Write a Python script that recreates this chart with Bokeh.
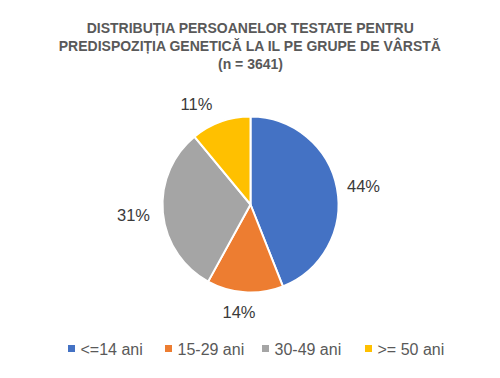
import math
from bokeh.plotting import figure
from bokeh.models import Range1d, ColumnDataSource
from bokeh.core.properties import value
from bokeh.embed import file_html
from bokeh.resources import INLINE

# ---- data ----
categories = ["<=14 ani", "15-29 ani", "30-49 ani", ">= 50 ani"]
shares = [44, 14, 31, 11]
labels = ["44%", "14%", "31%", "11%"]
title_lines = [
    "DISTRIBUȚIA PERSOANELOR TESTATE PENTRU",
    "PREDISPOZIȚIA GENETICĂ LA IL PE GRUPE DE VÂRSTĂ",
    "(n = 3641)",
]

# ---- style / layout ----
colors = ["#4472C4", "#ED7D31", "#A5A5A5", "#FFC000"]
W, H = 500, 378
cx, cy, R = 250, 204, 88          # pie centre / radius (pixels from top-left)
label_pos = [(363, 185), (238.5, 311.5), (133, 214), (196, 103.5)]
title_y = [27, 45.5, 63.5]
legend_x = [71, 168, 265, 368]
legend_y = 348
FONT = "Liberation Sans"

def Y(ypix):
    return H - ypix

p = figure(width=W, height=H, x_range=Range1d(0, W), y_range=Range1d(0, H),
           output_backend="svg", toolbar_location=None, min_border=0)
p.axis.visible = False
p.grid.visible = False
p.outline_line_color = None
p.background_fill_color = "white"
p.border_fill_color = "white"

total = float(sum(shares))
starts, ends = [], []
acc = 0.0
for s in shares:
    starts.append(math.radians(90 - 360 * acc / total))
    acc += s
    ends.append(math.radians(90 - 360 * acc / total))

src = ColumnDataSource(dict(start=starts, end=ends, color=colors,
                            x=[cx] * len(shares), y=[Y(cy)] * len(shares)))
p.wedge(x="x", y="y", radius=R, start_angle="start", end_angle="end",
        direction="clock", fill_color="color", line_color="white",
        line_width=2, source=src)

# data labels
p.text(x=[q[0] for q in label_pos], y=[Y(q[1]) for q in label_pos], text=labels,
       text_font=value(FONT), text_font_size="16.5px", text_color="#3a3a3a",
       text_align="center", text_baseline="middle")

# title
p.text(x=[W / 2] * len(title_lines), y=[Y(t) for t in title_y], text=title_lines,
       text_font=value(FONT), text_font_size="14px", text_font_style="bold",
       text_color="#595959", text_align="center", text_baseline="middle")

# legend
p.scatter(x=legend_x, y=[Y(legend_y)] * len(categories), marker="square",
          size=7, fill_color=colors, line_color=None)
p.text(x=[lx + 9 for lx in legend_x], y=[Y(legend_y + 0.5)] * len(categories),
       text=categories, text_font=value(FONT), text_font_size="16px",
       text_color="#595959", text_align="left", text_baseline="middle")

open("out.html", "w").write(file_html(p, INLINE))
